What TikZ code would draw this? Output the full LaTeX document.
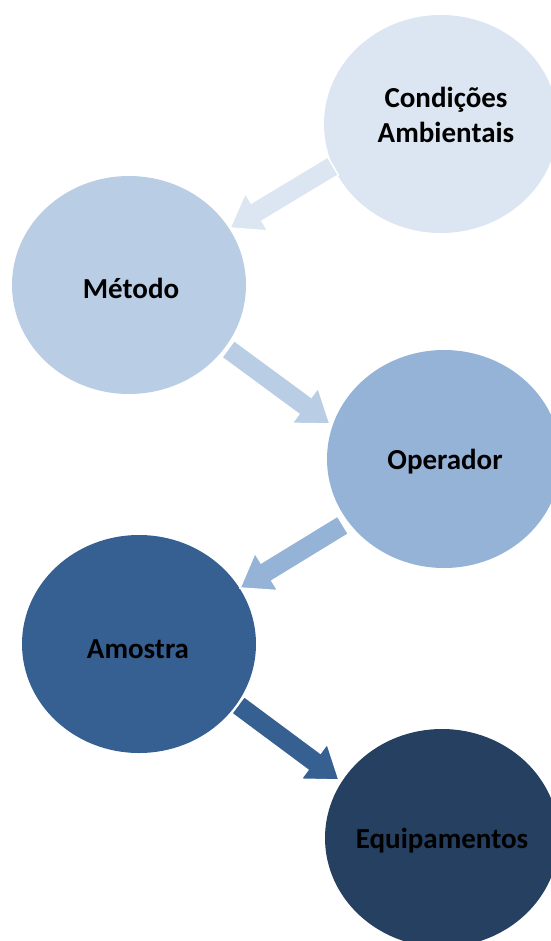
\documentclass[tikz,border=0pt]{standalone}
\usepackage{fontspec}
\setmainfont{Carlito}
\usetikzlibrary{shapes.geometric,calc}
\definecolor{cCond}{HTML}{DCE6F2}
\definecolor{cMet}{HTML}{B9CDE5}
\definecolor{cOp}{HTML}{95B3D7}
\definecolor{cAm}{HTML}{366092}
\definecolor{cEq}{HTML}{254061}
\newcommand\blockarrow[3]{%
  \coordinate (hb) at ($(#2)!31pt!(#1)$);
  \draw[barrow, fill=#3]
    ($(#1)!10.5pt!90:(#2)$) -- ($(hb)!10.5pt!-90:(#1)$) -- ($(hb)!22pt!-90:(#1)$) -- (#2)
    -- ($(hb)!22pt!90:(#1)$) -- ($(hb)!10.5pt!90:(#1)$) -- ($(#1)!10.5pt!-90:(#2)$) -- cycle;
}
\begin{document}
\begin{tikzpicture}[x=1pt,y=-1pt,
  bubble/.style={ellipse, minimum width=234pt, minimum height=218pt, inner sep=0pt, draw=none},
  lbl/.style={font=\bfseries\fontsize{29}{35}\selectfont, text=black, align=center, inner sep=0pt},
  barrow/.style={draw=white, line width=1.5pt, line join=miter}]
\useasboundingbox (0,0) rectangle (550,941);
\fill[white] (0,0) rectangle (550,941);
\node[bubble, fill=cCond] (cond) at (441,124) {};
\node[bubble, fill=cMet] (met) at (129,285) {};
\node[bubble, fill=cOp] (op) at (444,459) {};
\node[bubble, fill=cAm] (am) at (139,644) {};
\node[bubble, fill=cEq] (eq) at (442,838) {};
\node[lbl] (tcond) at (446,115) {Condições\\Ambientais};
\node[lbl, anchor=base] (tmet) at (131,298) {Método};
\node[lbl, anchor=base] (top) at (445,469) {Operador};
\node[lbl, anchor=base] (tam) at (138,658) {Amostra};
\node[lbl, anchor=base] (teq) at (442,848) {Equipamentos};
\coordinate (a1s) at (333,166); \coordinate (a1e) at (230,228);
\coordinate (a2s) at (228,349); \coordinate (a2e) at (330,424);
\coordinate (a3s) at (343,525); \coordinate (a3e) at (240,588);
\coordinate (a4s) at (238,705); \coordinate (a4e) at (339,780);
\blockarrow{a1s}{a1e}{cCond}
\blockarrow{a2s}{a2e}{cMet}
\blockarrow{a3s}{a3e}{cOp}
\blockarrow{a4s}{a4e}{cAm}
\end{tikzpicture}
\end{document}
